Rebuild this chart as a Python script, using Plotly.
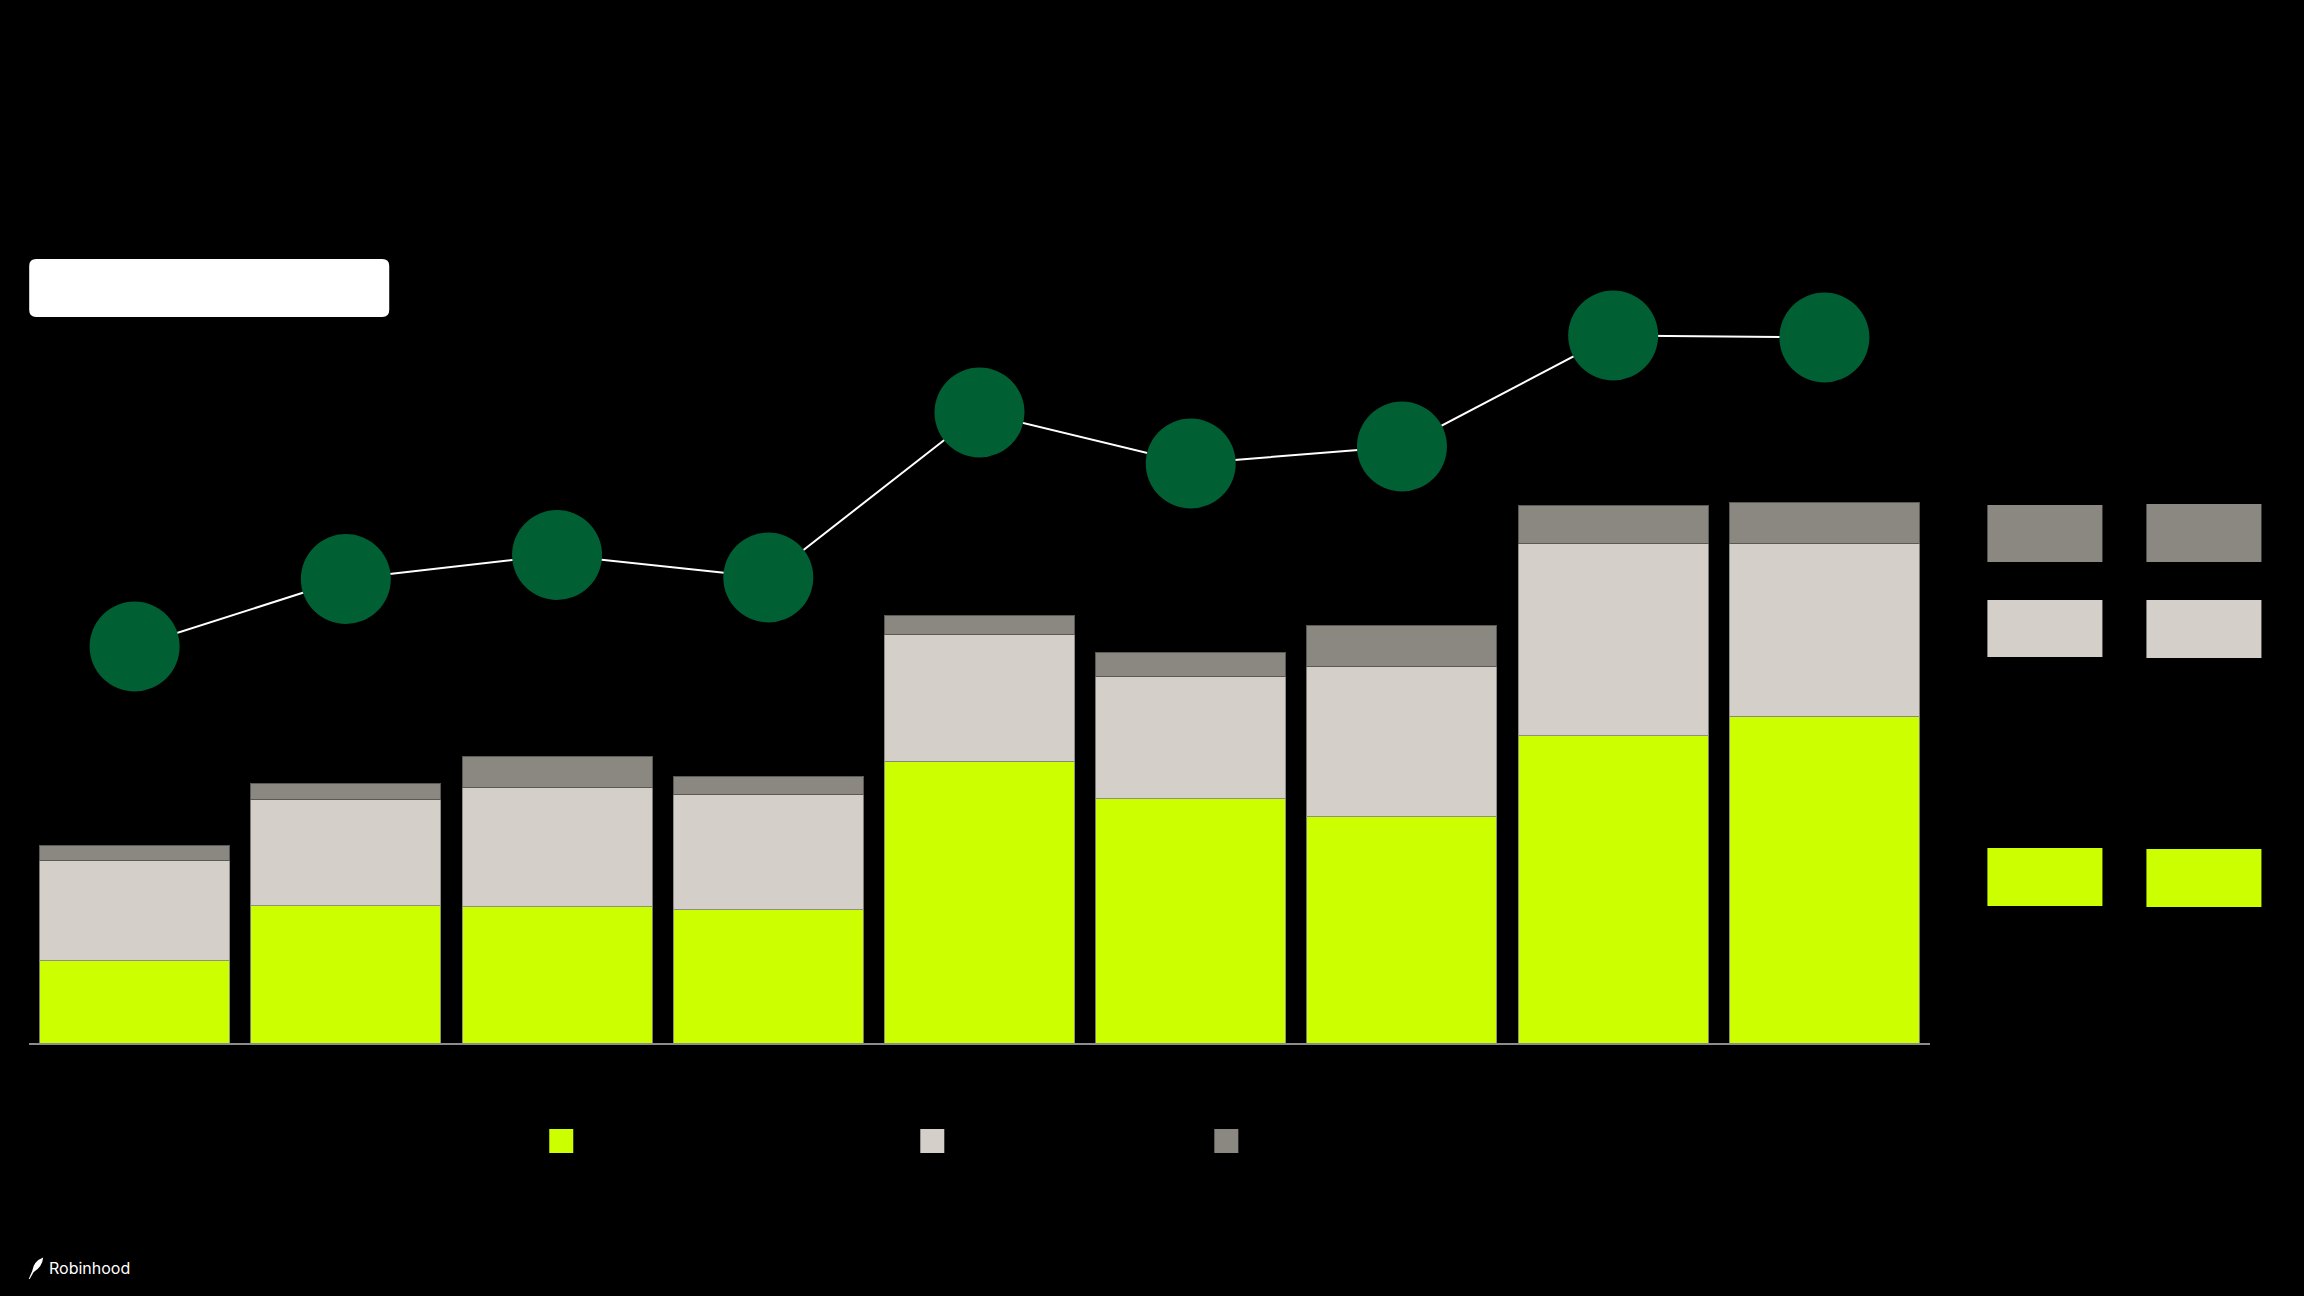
import plotly.graph_objects as go

# ---- data (arbitrary units, 2 units per pixel) ----
categories = ["P1", "P2", "P3", "P4", "P5", "P6", "P7", "P8", "P9"]
segment_green = [165, 275, 273, 267, 564, 489, 453, 615, 654]
segment_light = [201, 213, 239, 231, 253, 245, 301, 385, 346]
segment_gray = [30, 31, 61, 36, 39, 47, 81, 75, 81]
line_values = [793, 928, 976, 931, 1261, 1159, 1193, 1415, 1411]

GREEN = "#CCFF00"
LIGHT = "#D4CFC9"
GRAY = "#8B8882"
DARK_GREEN = "#015F34"

W, H = 2304, 1296
PLOT_L, PLOT_R = 28.8, 1929.6
PLOT_T, PLOT_B = 235.0, 1043.0
Y_MAX = 1616


def px(x, y):
    """pixel position -> paper coordinates"""
    return (x - PLOT_L) / (PLOT_R - PLOT_L), (PLOT_B - y) / (PLOT_B - PLOT_T)


def P(x, y):
    u, v = px(x, y)
    return f"{u:.6f},{v:.6f}"


fig = go.Figure()
edge = dict(color="rgba(135,135,128,0.9)", width=1)
fig.add_bar(x=categories, y=segment_green, marker=dict(color=GREEN, line=edge), name="green")
fig.add_bar(x=categories, y=segment_light, marker=dict(color=LIGHT, line=edge), name="light")
fig.add_bar(x=categories, y=segment_gray, marker=dict(color=GRAY, line=dict(color="#5a5955", width=1)), name="gray")
fig.add_scatter(
    x=categories, y=line_values, mode="lines+markers",
    line=dict(color="white", width=2),
    marker=dict(size=90, color=DARK_GREEN, line=dict(width=0)),
    cliponaxis=False, name="line",
)

shapes = []


def rect(x0, y0, x1, y1, color):
    a = px(x0, y0)
    b = px(x1, y1)
    shapes.append(dict(type="rect", xref="paper", yref="paper",
                       x0=a[0], y0=b[1], x1=b[0], y1=a[1],
                       fillcolor=color, line=dict(width=0), layer="above"))


def rounded(x0, y0, x1, y1, r, color):
    path = (f"M {P(x0 + r, y0)} L {P(x1 - r, y0)} Q {P(x1, y0)} {P(x1, y0 + r)} "
            f"L {P(x1, y1 - r)} Q {P(x1, y1)} {P(x1 - r, y1)} "
            f"L {P(x0 + r, y1)} Q {P(x0, y1)} {P(x0, y1 - r)} "
            f"L {P(x0, y0 + r)} Q {P(x0, y0)} {P(x0 + r, y0)} Z")
    shapes.append(dict(type="path", xref="paper", yref="paper", path=path,
                       fillcolor=color, line=dict(width=0), layer="above"))


# white rounded box top-left
rounded(29, 259, 389, 317, 7, "white")

# right-hand swatches
rect(1987, 505, 2102, 562, GRAY)
rect(2146, 504, 2261, 562, GRAY)
rect(1987, 600, 2102, 657, LIGHT)
rect(2146, 600, 2261, 658, LIGHT)
rect(1987, 848, 2102, 906, GREEN)
rect(2146, 849, 2261, 907, GREEN)

# bottom legend squares
rect(549, 1129, 573, 1153, GREEN)
rect(920, 1129, 944, 1153, LIGHT)
rect(1214, 1129, 1238, 1153, GRAY)

# feather icon
feather = (f"M {P(28.5, 1279)} L {P(32, 1271)} Q {P(33.5, 1261)} {P(43, 1257.5)} "
           f"Q {P(42, 1267)} {P(33.5, 1272)} L {P(29.5, 1279)} Z")
shapes.append(dict(type="path", xref="paper", yref="paper", path=feather,
                   fillcolor="white", line=dict(width=0), layer="above"))

tx, ty = px(47, 1268)
annotations = [dict(text="Robinhood", xref="paper", yref="paper", x=tx, y=ty,
                    xanchor="left", yanchor="middle", showarrow=False,
                    font=dict(family="Inter, Noto Sans, sans-serif", size=16, color="white"))]

fig.update_layout(
    width=W, height=H,
    margin=dict(l=PLOT_L, r=W - PLOT_R, t=PLOT_T, b=H - PLOT_B, pad=0, autoexpand=False),
    paper_bgcolor="black", plot_bgcolor="black",
    barmode="stack", bargap=0.1,
    showlegend=False,
    shapes=shapes, annotations=annotations,
    xaxis=dict(showticklabels=False, ticks="", showgrid=False, zeroline=False,
               showline=True, linecolor="#8c8c8c", linewidth=2,
               range=[-0.5, len(categories) - 0.5], fixedrange=True),
    yaxis=dict(visible=False, range=[0, Y_MAX], showgrid=False, zeroline=False, fixedrange=True),
    hovermode=False,
)

fig.write_html(
    "out.html",
    config={"displayModeBar": False},
    post_script="document.body.style.margin='0';document.body.style.background='black';"
                "document.body.style.overflow='hidden';",
)
